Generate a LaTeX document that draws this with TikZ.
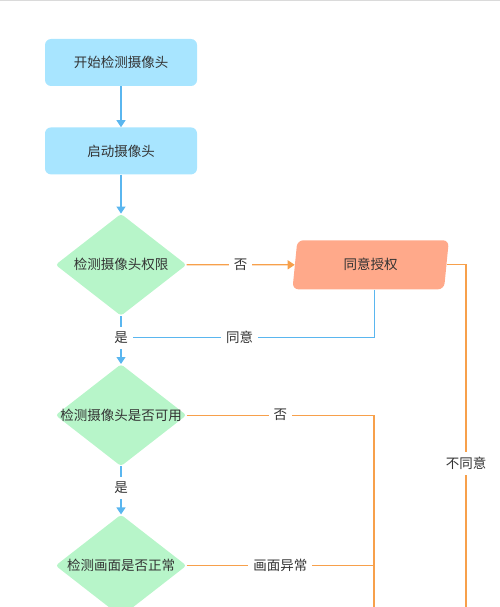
\documentclass[tikz,border=0pt]{standalone}
\usepackage{fontspec}
\newfontfamily\cjkfont{Noto Sans CJK SC}
\usetikzlibrary{positioning,shapes.geometric,arrows.meta}
\definecolor{StepColor}{RGB}{168,229,255}
\definecolor{CheckColor}{RGB}{183,245,201}
\definecolor{GrantColor}{RGB}{255,169,138}
\definecolor{YesColor}{RGB}{90,182,239}
\definecolor{NoColor}{RGB}{247,160,75}
\definecolor{LabelColor}{RGB}{51,51,51}
\definecolor{RuleColor}{RGB}{218,218,218}

\begin{document}
\begin{tikzpicture}[x=1pt, y=1pt,
    font=\cjkfont\fontsize{13.5}{16}\selectfont, text=LabelColor,
    stepbox/.style={fill=StepColor, rounded corners=6pt,
        minimum width=152pt, minimum height=47pt},
    check/.style={diamond, fill=CheckColor, rounded corners=3pt, inner sep=0pt,
        minimum width=131pt, minimum height=102pt},
    grant/.style={trapezium, trapezium left angle=84, trapezium right angle=96,
        trapezium stretches=true, fill=GrantColor, rounded corners=6pt,
        minimum width=157pt, minimum height=49pt},
    yes/.style={draw=YesColor, line width=1.2pt},
    no/.style={draw=NoColor, line width=1.2pt},
    tip/.style={-{Triangle[width=9pt,length=7pt]}},
    tag/.style={fill=white, inner sep=5pt}]

    \useasboundingbox (0,0) rectangle (500,-607);
    \draw[RuleColor, line width=1.5pt] (0,-0.75) -- (500,-0.75);

    \node[stepbox] (Start) at (121,-62.5) {开始检测摄像头};
    \node[stepbox, below=41pt of Start] (Open) {启动摄像头};
    \node[check, below=39pt of Open] (Perm) {\makebox[0pt]{检测摄像头权限}};
    \node[grant, right=108pt of Perm] (Grant) {同意授权};
    \node[check, below=48pt of Perm] (Avail) {\makebox[0pt]{检测摄像头是否可用}};
    \node[check, below=48pt of Avail] (Image) {\makebox[0pt]{检测画面是否正常}};

    \coordinate (FailEnd) at (374,-620);
    \coordinate (DenyEnd) at (466,-620);

    \foreach \from/\to in {Start/Open, Open/Perm}
    \draw [yes, tip] (\from)--(\to);

    \draw[yes, tip] (Perm) -- node[tag, pos=0.45] (PermYes) {是} (Avail);
    \draw[yes, tip] (Avail) -- node[tag, pos=0.45] {是} (Image);
    \draw[no, tip] (Perm) -- node[tag] {否} (Grant);
    \draw[yes] ([xshift=4pt]Grant.south) |- node[tag, pos=0.78] {同意} (PermYes);
    \draw[no] (Grant.east) -| node[tag, pos=0.78] {不同意} (DenyEnd);
    \draw[no] (Avail) -- node[tag] {否} (Avail -| FailEnd) -- (FailEnd);
    \draw[no] (Image) -- node[tag] {画面异常} (Image -| FailEnd);

\end{tikzpicture}
\end{document}
